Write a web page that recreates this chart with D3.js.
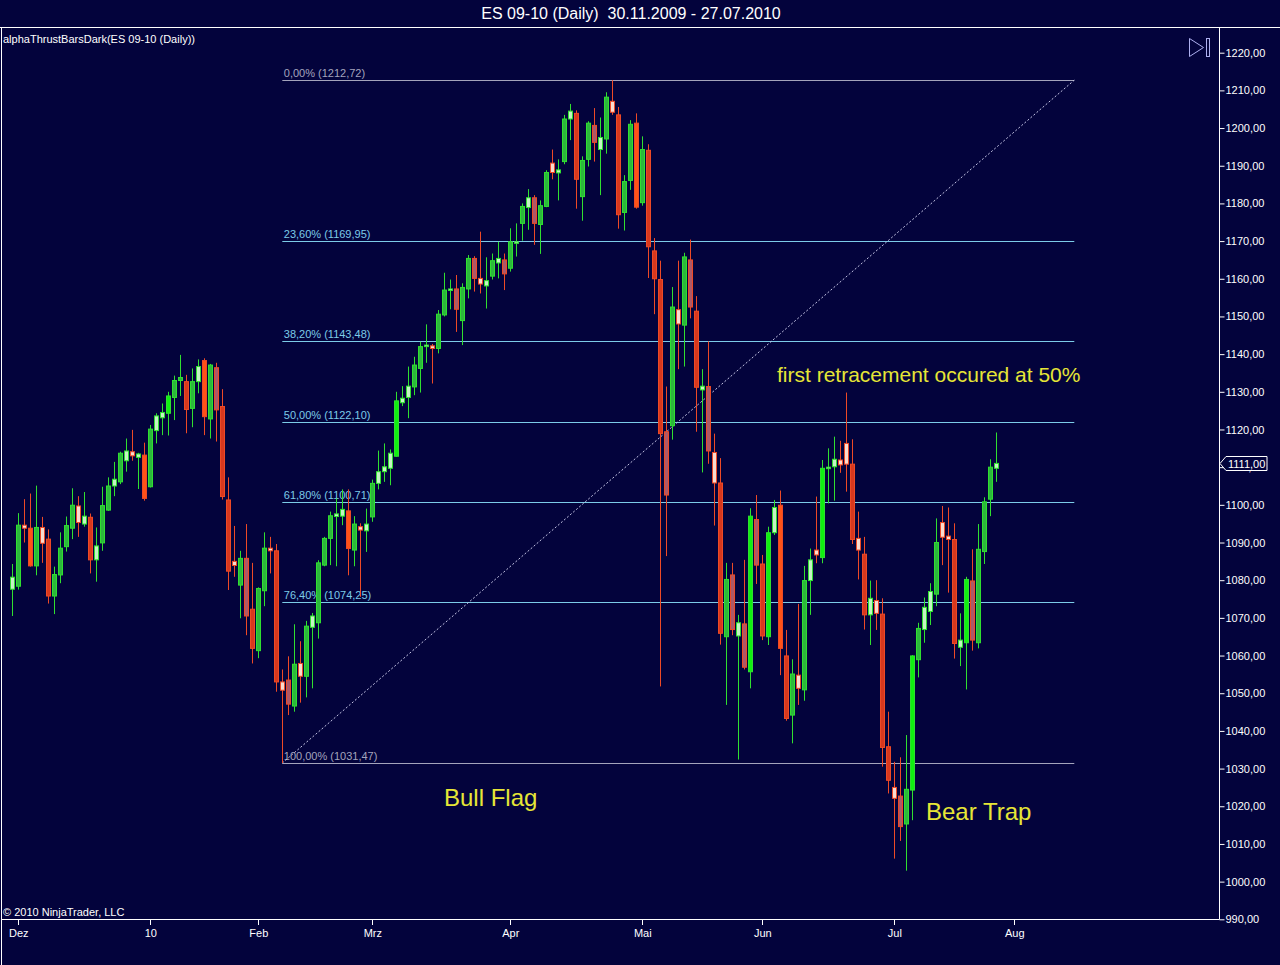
<!DOCTYPE html>
<html>
<head>
<meta charset="utf-8">
<script src="https://d3js.org/d3.v7.min.js"></script>
<style>
  body { margin: 0; background: #03033c; }
  text { font-family: "Liberation Sans", Arial, sans-serif; }
</style>
</head>
<body>
<div id="chart-area"></div>
<script>
// ES 09-10 daily bars, 30.11.2009 - 27.07.2010
var opens = [1077.6,1078.4,1094.6,1093.8,1083.8,1094.0,1090.9,1075.8,1081.4,1088.9,1093.8,1099.7,1094.9,1096.7,1085.4,1089.9,1098.6,1105.0,1106.1,1111.7,
  1114.1,1112.6,1113.2,1104.8,1119.7,1123.1,1124.3,1128.5,1133.0,1132.7,1125.6,1132.7,1138.3,1122.8,1136.4,1126.1,1101.3,1085.0,1078.7,1085.8,
  1072.3,1061.3,1077.2,1088.5,1087.8,1053.0,1053.5,1046.6,1057.9,1054.5,1067.5,1068.7,1084.0,1091.1,1096.9,1097.0,1098.4,1088.0,1094.2,1093.1,
  1096.8,1105.7,1108.8,1109.7,1112.9,1127.1,1128.5,1131.3,1136.2,1142.0,1142.2,1141.5,1150.4,1157.0,1157.3,1148.9,1157.3,1165.4,1160.1,1158.1,
  1160.7,1164.2,1165.0,1162.8,1169.4,1174.7,1178.9,1181.5,1174.4,1179.2,1190.7,1188.1,1191.1,1202.4,1203.9,1181.8,1191.7,1200.7,1194.3,1197.1,
  1207.1,1203.5,1177.6,1186.1,1201.3,1180.2,1194.1,1167.4,1159.8,1119.4,1121.0,1151.8,1147.7,1165.0,1151.4,1130.5,1131.4,1113.9,1105.8,1065.0,
  1081.4,1065.2,1068.4,1055.7,1096.1,1084.3,1065.0,1092.6,1099.9,1059.9,1044.2,1054.8,1050.9,1079.9,1088.0,1086.0,1109.6,1110.1,1111.9,1116.3,
  1110.8,1091.1,1086.9,1070.8,1074.6,1071.0,1035.8,1025.0,1022.7,1015.3,1024.3,1058.9,1066.9,1071.7,1076.3,1095.3,1091.7,1090.8,1062.2,1063.4,
  1079.8,1063.4,1087.6,1101.5,1109.7];
var highs = [1084.3,1097.8,1101.5,1103.0,1105.1,1096.8,1093.5,1083.6,1092.7,1096.9,1104.4,1102.3,1103.4,1097.7,1094.0,1104.8,1107.3,1111.4,1114.1,1117.6,
  1119.9,1113.8,1116.5,1121.2,1124.3,1126.9,1130.0,1134.3,1139.8,1134.5,1136.2,1138.6,1138.9,1137.4,1137.7,1130.7,1107.3,1094.4,1087.8,1094.9,
  1084.6,1078.1,1092.7,1091.5,1089.6,1056.3,1059.8,1068.3,1063.8,1069.2,1071.3,1085.3,1091.5,1098.2,1101.7,1104.1,1104.1,1097.0,1095.1,1099.0,
  1106.7,1114.4,1116.3,1114.7,1130.0,1131.5,1136.7,1139.3,1143.3,1147.9,1142.7,1151.7,1161.6,1159.8,1161.0,1158.8,1166.3,1166.0,1172.5,1165.7,
  1166.7,1169.8,1166.7,1173.4,1174.7,1180.0,1183.8,1182.2,1180.8,1188.8,1194.3,1191.7,1203.5,1206.4,1204.7,1192.5,1201.8,1205.3,1202.8,1209.5,
  1212.72,1205.6,1187.5,1202.1,1203.9,1197.8,1195.7,1170.8,1164.8,1131.4,1157.8,1164.8,1166.9,1170.4,1155.4,1136.0,1143.4,1118.9,1112.4,1084.6,
  1084.6,1070.8,1085.4,1099.1,1102.6,1086.7,1094.2,1101.3,1103.8,1066.8,1059.0,1073.7,1083.8,1088.4,1102.2,1111.9,1115.0,1118.1,1117.0,1129.8,
  1117.4,1098.2,1091.5,1079.9,1080.0,1075.2,1045.1,1031.8,1033.0,1038.9,1060.1,1068.7,1075.4,1079.2,1096.4,1099.7,1099.3,1095.1,1071.2,1080.9,
  1088.2,1094.9,1102.0,1112.1,1119.2];
var lows = [1070.5,1077.5,1090.0,1083.6,1081.3,1084.6,1073.8,1071.0,1079.2,1087.6,1090.9,1091.5,1094.2,1081.8,1079.6,1087.8,1098.4,1102.3,1105.5,1108.8,
  1111.7,1104.2,1101.1,1104.6,1116.3,1118.5,1118.4,1122.5,1128.9,1119.0,1120.6,1129.6,1118.5,1117.6,1116.8,1101.4,1077.4,1080.9,1069.9,1065.4,
  1057.9,1059.3,1073.1,1081.8,1050.4,1031.47,1044.2,1045.1,1047.5,1048.9,1051.3,1064.5,1083.7,1084.0,1083.7,1094.6,1081.3,1083.7,1075.6,1087.5,
  1095.5,1104.1,1106.1,1105.2,1112.8,1126.2,1123.0,1129.1,1129.8,1137.7,1132.2,1140.2,1150.0,1151.9,1145.9,1142.4,1154.8,1156.6,1156.1,1152.1,
  1159.8,1160.1,1157.0,1161.9,1165.9,1170.1,1173.0,1169.0,1166.6,1179.0,1186.4,1180.8,1190.4,1196.8,1178.6,1175.4,1189.8,1191.1,1182.2,1193.2,
  1203.5,1173.3,1172.8,1183.6,1178.6,1179.4,1160.2,1150.6,1051.8,1086.4,1117.3,1136.0,1136.7,1149.5,1119.4,1108.6,1110.9,1094.5,1062.9,1046.9,
  1065.4,1032.4,1056.3,1051.3,1079.0,1064.1,1062.8,1092.0,1054.8,1042.7,1036.7,1046.9,1048.0,1070.8,1084.5,1084.5,1100.4,1101.1,1108.5,1103.5,
  1089.6,1080.2,1066.9,1062.8,1066.8,1030.5,1023.4,1006.1,1010.8,1002.9,1016.3,1054.2,1063.4,1068.1,1073.1,1084.0,1076.7,1059.2,1057.2,1051.0,
  1061.3,1061.9,1084.3,1097.0,1106.1];
var closes = [1080.8,1094.6,1093.8,1083.8,1094.0,1089.8,1075.8,1081.5,1088.5,1094.5,1099.9,1095.3,1097.0,1085.4,1089.1,1099.8,1105.0,1106.8,1113.7,1114.3,
  1113.0,1113.5,1101.7,1120.1,1123.6,1124.5,1128.9,1133.0,1133.8,1125.3,1132.7,1136.7,1123.4,1137.1,1125.2,1102.2,1082.4,1083.9,1085.8,1070.5,
  1061.9,1077.8,1088.5,1087.8,1053.0,1050.8,1047.1,1057.7,1054.5,1067.8,1070.5,1084.6,1091.1,1097.1,1097.6,1098.8,1088.4,1094.9,1093.3,1094.9,
  1105.7,1108.8,1110.1,1113.7,1127.6,1128.3,1131.5,1137.1,1142.0,1142.4,1141.5,1150.6,1157.0,1157.3,1151.9,1157.7,1165.4,1160.1,1158.6,1159.5,
  1164.8,1165.4,1161.3,1169.8,1169.8,1179.2,1181.5,1174.7,1179.4,1188.2,1188.2,1188.9,1202.4,1204.5,1186.4,1191.4,1201.3,1196.2,1197.5,1208.2,
  1204.2,1177.0,1185.8,1201.0,1179.0,1194.3,1168.5,1160.0,1118.9,1102.6,1152.5,1148.0,1165.8,1152.5,1131.2,1131.5,1114.3,1105.8,1065.9,1080.2,
  1066.9,1068.7,1056.9,1097.0,1084.0,1065.2,1092.6,1099.3,1061.9,1043.3,1055.1,1051.3,1079.9,1085.4,1086.7,1109.7,1110.0,1112.1,1110.6,1110.8,
  1090.8,1088.0,1070.8,1075.2,1071.2,1035.6,1026.9,1022.1,1014.6,1024.5,1059.9,1067.2,1072.8,1077.0,1090.0,1091.4,1090.8,1063.2,1064.1,1080.2,
  1064.1,1088.2,1100.8,1110.0,1111.0];
// alphaThrust class per bar, ten bars per row:
// G strong up, g up, w weak up, R strong down, r down, m weak down, p pale down
var thrust = [
  "wgpRgprggg", "gpwrwggwgw", "pwRgwwGggr", "gwRgmrrpgm", "rggprpmgpg",
  "wgggwwRgpw", "gwwwGwwggw", "pggwmggmpw", "gwmgwgwmgg", "pwgwrggmwg",
  "prggRgrrrm", "gpgmrwmprg", "mwmGmrGwRr", "gpgwpGwwpp", "rprwprrpmg",
  "GgwwgpprwG", "mgggw"
].join("").split("");

var monthLabels = ["Dez", "10", "Feb", "Mrz", "Apr", "Mai", "Jun", "Jul", "Aug"];
var monthStart = [1, 23, 41, 60, 83, 105, 125, 147, 167];

var yTicks = d3.range(990, 1221, 10);

var fibHigh = 1212.72, fibLow = 1031.47;
var fibRatios = [0, 0.236, 0.382, 0.5, 0.618, 0.764, 1];
var fibFrom = 45, fibTo = 177;

var lastPrice = 1111.00;

var width = 1280, height = 965;
var bg = "#03033c";

var svg = d3.select("#chart-area").append("svg")
  .attr("width", width)
  .attr("height", height)
  .style("display", "block");

svg.append("rect").attr("width", width).attr("height", height).attr("fill", bg);

var x = d3.scaleLinear().domain([0, 164]).range([12.3, 996.3]);
var y = d3.scaleLinear().domain([990, 1220]).range([919.3, 52.7]);

var dec = function(v) { return d3.format(".2f")(v + 1e-9).replace(".", ","); };

// title + frame
svg.append("text")
  .attr("x", 631).attr("y", 19)
  .attr("text-anchor", "middle")
  .attr("font-size", "16px")
  .attr("fill", "#ffffff")
  .style("white-space", "pre")
  .text("ES 09-10 (Daily)  30.11.2009 - 27.07.2010");

svg.append("line").attr("x1", 0).attr("x2", width).attr("y1", 27.5).attr("y2", 27.5)
  .attr("stroke", "#ffffff").attr("stroke-width", 1);
svg.append("line").attr("x1", 1.5).attr("x2", 1.5).attr("y1", 27.5).attr("y2", height)
  .attr("stroke", "#ffffff").attr("stroke-width", 1);

svg.append("text")
  .attr("x", 3).attr("y", 43)
  .attr("font-size", "11px")
  .attr("fill", "#ffffff")
  .text("alphaThrustBarsDark(ES 09-10 (Daily))");

svg.append("text")
  .attr("x", 3).attr("y", 916)
  .attr("font-size", "11px")
  .attr("fill", "#ffffff")
  .text("\u00a9 2010 NinjaTrader, LLC");

// fibonacci retracement
var fibs = fibRatios.map(function(r) {
  return { r: r, v: fibHigh - r * (fibHigh - fibLow) };
});
var fibColor = function(d) { return (d.r === 0 || d.r === 1) ? "#a4a4bc" : "#7ccbe8"; };

var fg = svg.append("g");
fg.selectAll("line.fib").data(fibs).enter().append("line")
  .attr("class", "fib")
  .attr("x1", x(fibFrom)).attr("x2", x(fibTo))
  .attr("y1", function(d) { return Math.round(y(d.v)) + 0.5; })
  .attr("y2", function(d) { return Math.round(y(d.v)) + 0.5; })
  .attr("stroke", fibColor)
  .attr("stroke-width", 1);

fg.selectAll("text.fib").data(fibs).enter().append("text")
  .attr("class", "fib")
  .attr("x", x(fibFrom) + 1.5)
  .attr("y", function(d) { return Math.round(y(d.v)) - 3; })
  .attr("font-size", "11px")
  .attr("fill", fibColor)
  .text(function(d) { return dec(d.r * 100) + "% (" + dec(d.v) + ")"; });

fg.append("line")
  .attr("x1", x(fibFrom)).attr("y1", y(fibLow))
  .attr("x2", x(fibTo)).attr("y2", y(fibHigh))
  .attr("stroke", "#c4c4e4")
  .attr("stroke-width", 1)
  .attr("stroke-dasharray", "2,2");

// candles
var fills = { G: "#10f010", g: "#2cb83c", w: "#c4f4c4", R: "#ff5218", r: "#d8381e", m: "#ac5868", p: "#f8dcd0" };
var upLine = "#30e030", dnLine = "#ee4a26";
var isUp = function(d) { return "Ggw".indexOf(d.t) >= 0; };

var bars = opens.map(function(o, i) {
  return { i: i, o: o, h: highs[i], l: lows[i], c: closes[i], t: thrust[i] };
});

var cg = svg.append("g");
var candle = cg.selectAll("g.bar").data(bars).enter().append("g").attr("class", "bar");

candle.append("line")
  .attr("x1", function(d) { return Math.round(x(d.i)) + 0.5; })
  .attr("x2", function(d) { return Math.round(x(d.i)) + 0.5; })
  .attr("y1", function(d) { return y(d.h); })
  .attr("y2", function(d) { return y(d.l); })
  .attr("stroke", function(d) { return isUp(d) ? upLine : dnLine; })
  .attr("stroke-width", 1);

candle.append("rect")
  .attr("x", function(d) { return Math.round(x(d.i)) - 1.5; })
  .attr("width", 4)
  .attr("y", function(d) { return y(Math.max(d.o, d.c)); })
  .attr("height", function(d) { return Math.max(1.5, Math.abs(y(d.o) - y(d.c))); })
  .attr("fill", function(d) { return fills[d.t]; })
  .attr("stroke", function(d) { return isUp(d) ? upLine : dnLine; })
  .attr("stroke-width", 1);

// annotations
var notes = svg.append("g").attr("fill", "#e6e636");
notes.append("text").attr("x", 777).attr("y", 382).attr("font-size", "21px")
  .text("first retracement occured at 50%");
notes.append("text").attr("x", 444).attr("y", 806).attr("font-size", "24px")
  .text("Bull Flag");
notes.append("text").attr("x", 926).attr("y", 820).attr("font-size", "24px")
  .text("Bear Trap");

// price axis (right)
var yAxis = d3.axisRight(y).tickValues(yTicks).tickSize(5).tickFormat(dec);
var ya = svg.append("g")
  .attr("transform", "translate(1219.5,0)")
  .call(yAxis);
ya.select(".domain").remove();
ya.selectAll(".tick line").attr("stroke", "#ffffff");
ya.selectAll(".tick text").attr("fill", "#ffffff").attr("font-size", "11px")
  .attr("font-family", "Liberation Sans, Arial, sans-serif").attr("x", 6);

svg.append("line").attr("x1", 1219.5).attr("x2", 1219.5).attr("y1", 27.5).attr("y2", 919.5)
  .attr("stroke", "#ffffff").attr("stroke-width", 1);

// time axis (bottom)
svg.append("line").attr("x1", 1.5).attr("x2", 1219.5).attr("y1", 919.5).attr("y2", 919.5)
  .attr("stroke", "#ffffff").attr("stroke-width", 1);

var xa = svg.append("g");
xa.selectAll("line").data(monthStart).enter().append("line")
  .attr("x1", function(d) { return Math.round(x(d)) + 0.5; })
  .attr("x2", function(d) { return Math.round(x(d)) + 0.5; })
  .attr("y1", 919.5).attr("y2", 925)
  .attr("stroke", "#ffffff");
xa.selectAll("text").data(monthStart).enter().append("text")
  .attr("x", function(d) { return x(d) + 0.5; })
  .attr("y", 937)
  .attr("text-anchor", "middle")
  .attr("font-size", "11px")
  .attr("fill", "#ffffff")
  .text(function(d, i) { return monthLabels[i]; });

// last price marker
var ly = Math.round(y(lastPrice)) + 0.5;
svg.append("path")
  .attr("d", "M1220," + ly + " L1226," + (ly - 7) + " H1267 V" + (ly + 7) + " H1226 Z")
  .attr("fill", bg)
  .attr("stroke", "#ffffff")
  .attr("stroke-width", 1);
svg.append("text")
  .attr("x", 1228).attr("y", ly + 4)
  .attr("font-size", "11px")
  .attr("fill", "#ffffff")
  .text(dec(lastPrice));

// play / scroll-to-end button
svg.append("path")
  .attr("d", "M1189.5,38.5 L1203.5,47.5 L1189.5,56.5 Z")
  .attr("fill", "none").attr("stroke", "#aeb0f0").attr("stroke-width", 1);
svg.append("rect")
  .attr("x", 1206.5).attr("y", 38.5).attr("width", 3).attr("height", 18)
  .attr("fill", "none").attr("stroke", "#aeb0f0").attr("stroke-width", 1);
</script>
</body>
</html>
